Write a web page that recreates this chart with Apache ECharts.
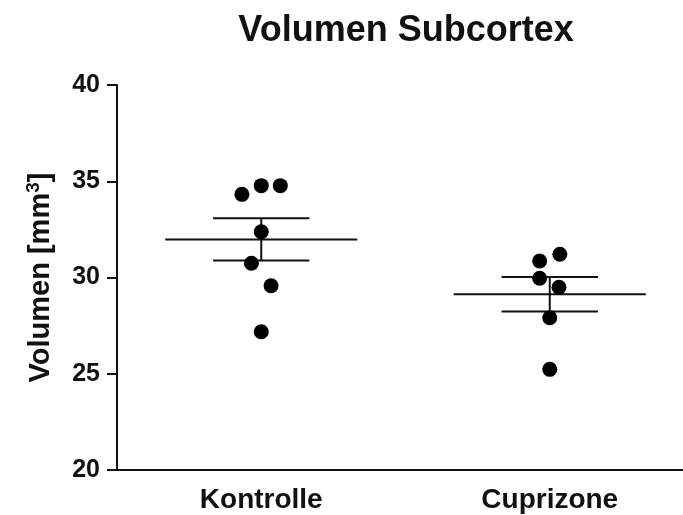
<!DOCTYPE html>
<html>
<head>
<meta charset="utf-8">
<script src="https://cdn.jsdelivr.net/npm/echarts@6/dist/echarts.min.js"></script>
<style>
  html, body { margin: 0; padding: 0; background: #fff; }
  #chart { width: 683px; height: 515px; }
</style>
</head>
<body>
<div id="chart"></div>
<script>
// Gruppen
var groups = ['Kontrolle', 'Cuprizone'];

// Einzelwerte (mm3) und horizontale Streuung pro Punkt
var kontrolleValues = [34.32, 34.77, 34.77, 32.38, 30.74, 29.57, 27.18];
var kontrolleJitter = [-0.067, 0, 0.066, 0, -0.034, 0.034, 0];
var cuprizoneValues = [30.86, 31.21, 29.96, 29.49, 27.91, 25.23];
var cuprizoneJitter = [-0.035, 0.035, -0.035, 0.032, 0, 0];

// Mittelwert und SEM
var means = [31.98, 29.13];
var sems = [1.10, 0.89];

var yTicks = [20, 25, 30, 35, 40];

var FONT = 'Liberation Sans, Arial, sans-serif';
var INK = '#111';

function points(values, jitter, idx) {
  var res = [];
  for (var i = 0; i < values.length; i++) {
    res.push([idx + jitter[i], values[i]]);
  }
  return res;
}

var errData = [];
for (var i = 0; i < means.length; i++) {
  errData.push([i, means[i], sems[i]]);
}

var chart = echarts.init(document.getElementById('chart'));
chart.setOption({
  animation: false,
  backgroundColor: '#fff',
  title: {
    text: 'Volumen Subcortex',
    left: 406,
    top: 13,
    padding: 0,
    textAlign: 'center',
    textStyle: { fontFamily: FONT, fontSize: 36, fontWeight: 'bold', color: INK }
  },
  grid: { left: 117, width: 577, top: 85, bottom: 45, outerBoundsMode: 'none', containLabel: false },
  xAxis: [{
    type: 'category',
    data: groups,
    boundaryGap: true,
    axisLine: { lineStyle: { color: INK, width: 2 } },
    axisTick: { alignWithLabel: true, length: 9, lineStyle: { color: INK, width: 2 } },
    axisLabel: { margin: 16, fontFamily: FONT, fontSize: 28, fontWeight: 'bold', color: INK },
    splitLine: { show: false }
  }, {
    type: 'value',
    show: false,
    min: -0.5,
    max: 1.5
  }],
  yAxis: {
    type: 'value',
    min: yTicks[0],
    max: yTicks[yTicks.length - 1],
    interval: 5,
    name: '{t|Volumen [mm}{s|3}{t|]}',
    nameLocation: 'middle',
    nameGap: 59,
    nameTextStyle: {
      fontFamily: FONT, fontSize: 29, fontWeight: 'bold', color: INK,
      rich: {
        t: { fontFamily: FONT, fontSize: 29, fontWeight: 'bold', color: INK, lineHeight: 34 },
        s: { fontFamily: FONT, fontSize: 19, fontWeight: 'bold', color: INK, verticalAlign: 'top', lineHeight: 34 }
      }
    },
    axisLine: { show: true, onZero: false, lineStyle: { color: INK, width: 2 } },
    axisTick: { show: true, length: 10, lineStyle: { color: INK, width: 2 } },
    axisLabel: { margin: 17, fontFamily: FONT, fontSize: 25, fontWeight: 'bold', color: INK },
    splitLine: { show: false }
  },
  series: [{
    type: 'custom',
    xAxisIndex: 1,
    data: errData,
    z: 2,
    renderItem: function (params, api) {
      var x = api.value(0), m = api.value(1), s = api.value(2);
      var st = { stroke: INK, lineWidth: 2 };
      var mid = api.coord([x, m]);
      var a = api.coord([x - 0.333, m]);
      var b = api.coord([x + 0.333, m]);
      var hi = api.coord([x, m + s]);
      var lo = api.coord([x, m - s]);
      var w = api.coord([x + 0.167, m])[0] - mid[0];
      return {
        type: 'group',
        children: [
          { type: 'line', shape: { x1: a[0], y1: a[1], x2: b[0], y2: b[1] }, style: st },
          { type: 'line', shape: { x1: hi[0], y1: hi[1], x2: lo[0], y2: lo[1] }, style: st },
          { type: 'line', shape: { x1: hi[0] - w, y1: hi[1], x2: hi[0] + w, y2: hi[1] }, style: st },
          { type: 'line', shape: { x1: lo[0] - w, y1: lo[1], x2: lo[0] + w, y2: lo[1] }, style: st }
        ]
      };
    }
  }, {
    type: 'scatter',
    xAxisIndex: 1,
    symbolSize: 15,
    z: 3,
    itemStyle: { color: '#000', opacity: 1 },
    data: points(kontrolleValues, kontrolleJitter, 0)
  }, {
    type: 'scatter',
    xAxisIndex: 1,
    symbolSize: 15,
    z: 3,
    itemStyle: { color: '#000', opacity: 1 },
    data: points(cuprizoneValues, cuprizoneJitter, 1)
  }]
});
</script>
</body>
</html>
